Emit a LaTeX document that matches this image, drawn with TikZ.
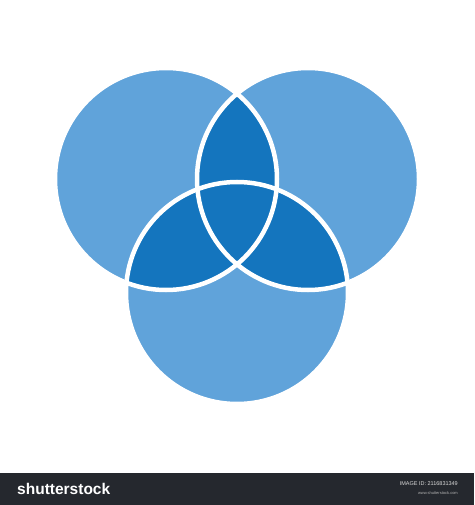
\documentclass[tikz,border=0pt]{standalone}
\usepackage{fontspec}
\setmainfont{Liberation Sans}
\definecolor{lightblue}{RGB}{96,163,218}
\definecolor{darkblue}{RGB}{20,117,190}
\definecolor{barcol}{RGB}{37,40,46}
\tikzset{
  setfill/.style={fill=lightblue},
  overlapfill/.style={fill=darkblue},
  sep/.style={draw=white, line width=4.5pt},
  bartext/.style={text=white, inner sep=0pt}
}
\begin{document}
\begin{tikzpicture}[x=1pt,y=-1pt]
\useasboundingbox (0,0) rectangle (474,505);
\fill[white] (0,0) rectangle (474,505);
\coordinate (L) at (166,179);
\coordinate (R) at (308,179);
\coordinate (B) at (237,293);
\def\rr{111pt}
% sets
\path[setfill] (L) circle[radius=\rr];
\path[setfill] (R) circle[radius=\rr];
\path[setfill] (B) circle[radius=\rr];
% overlaps
\begin{scope}
  \clip (L) circle[radius=\rr];
  \path[overlapfill] (R) circle[radius=\rr];
  \path[overlapfill] (B) circle[radius=\rr];
\end{scope}
\begin{scope}
  \clip (R) circle[radius=\rr];
  \path[overlapfill] (B) circle[radius=\rr];
\end{scope}
% separating outlines
\path[sep] (L) circle[radius=\rr];
\path[sep] (R) circle[radius=\rr];
\path[sep] (B) circle[radius=\rr];
% bottom bar
\fill[barcol] (0,473) rectangle (474,505);
\node[bartext, anchor=west, font=\bfseries\fontsize{15.5}{16}\selectfont] (logo) at (17,489) {shutterstock};
\node[bartext, anchor=east, font=\fontsize{5.5}{6}\selectfont, text=white!85!black] (imgid) at (458,484) {IMAGE ID: 2116831349};
\node[bartext, anchor=east, font=\fontsize{4}{5}\selectfont, text=white!70!black] (url) at (458,493) {www.shutterstock.com};
\end{tikzpicture}
\end{document}
